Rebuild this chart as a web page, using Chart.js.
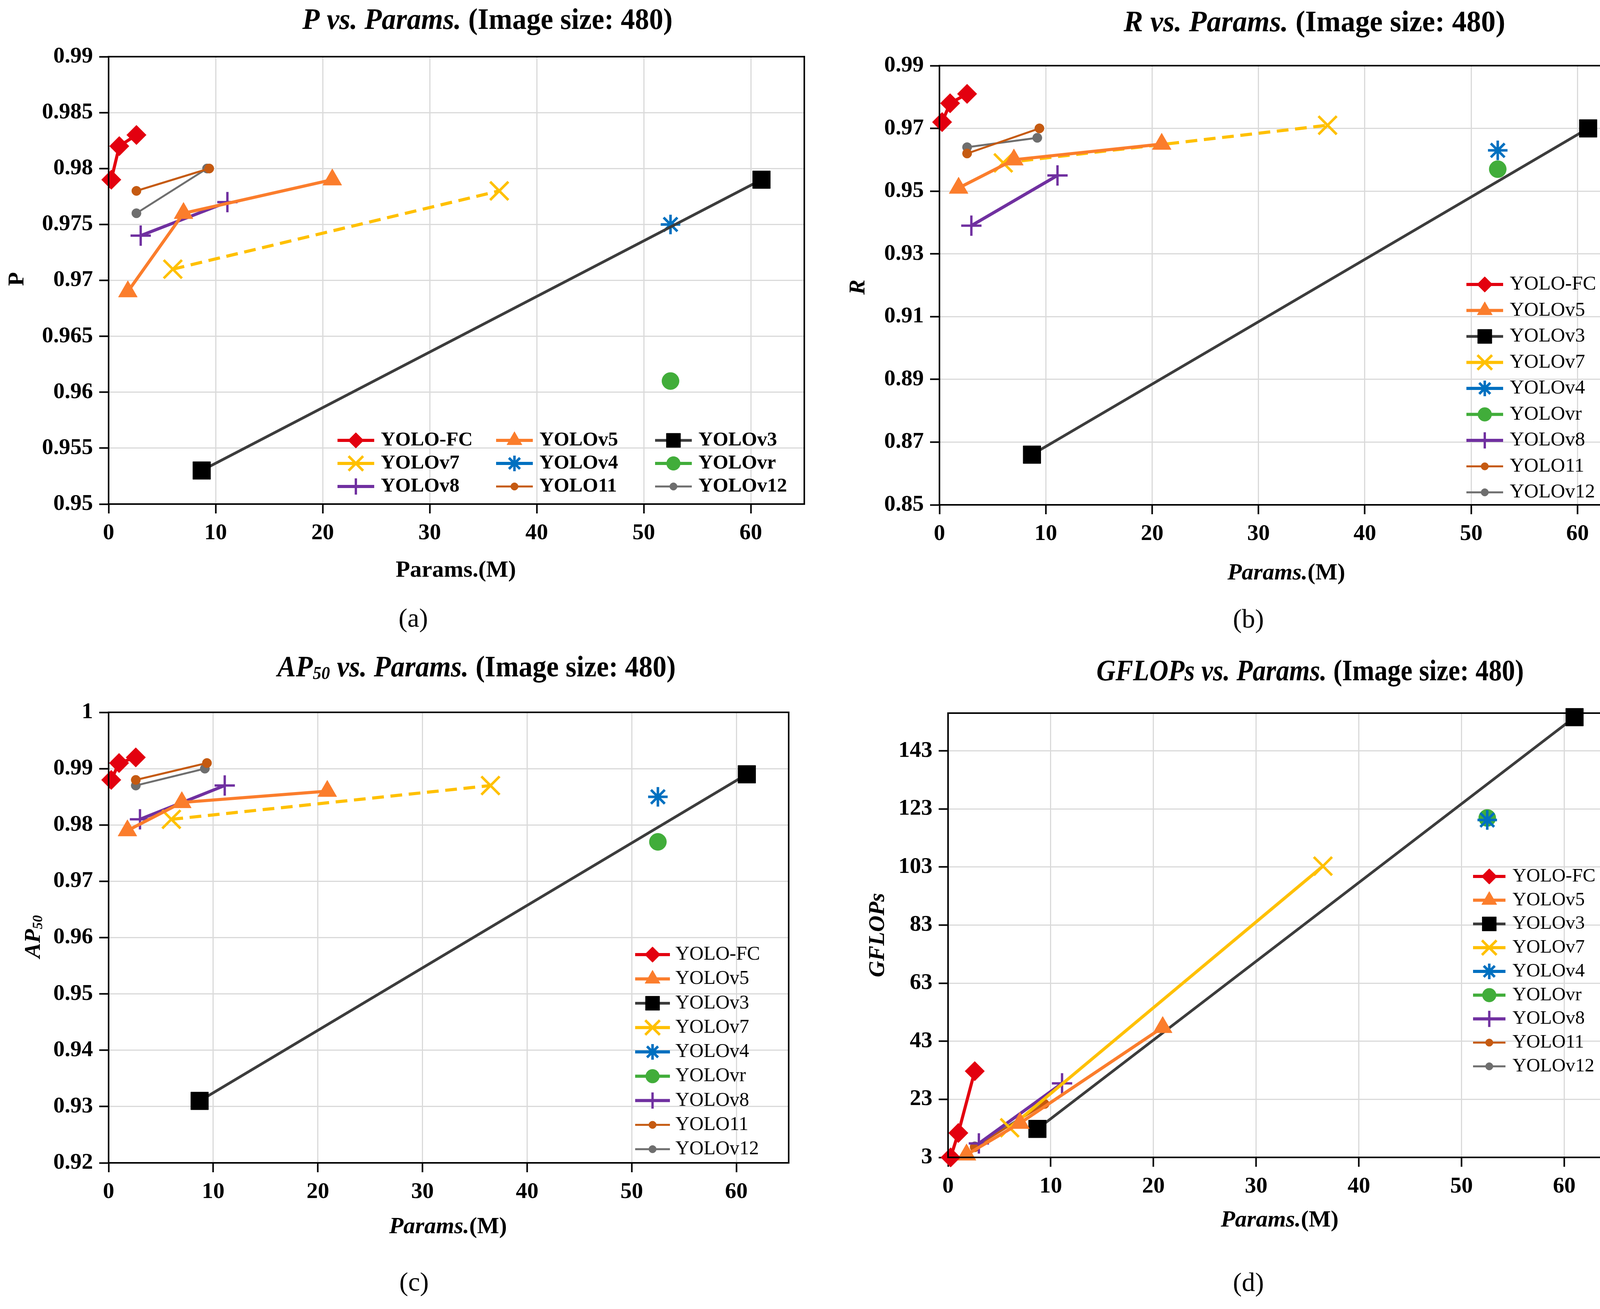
<!DOCTYPE html>
<html>
<head>
<meta charset="utf-8">
<script src="https://cdn.jsdelivr.net/npm/chart.js@4.4.1/dist/chart.umd.min.js"></script>
<style>
html, body { margin: 0; padding: 0; background: #fff; }
#wrap { position: relative; width: 4214px; height: 3350px; }
canvas { position: absolute; width: 2107px; height: 1675px; }
</style>
</head>
<body>
<div id="wrap">
<canvas id="chartP" width="2107" height="1675" style="left:0;top:0"></canvas>
<canvas id="chartR" width="2107" height="1675" style="left:2107px;top:0"></canvas>
<canvas id="chartAP" width="2107" height="1675" style="left:0;top:1675px"></canvas>
<canvas id="chartG" width="2107" height="1675" style="left:2107px;top:1675px"></canvas>
</div>
<script>
// models, in legend order
var models = ['YOLO-FC', 'YOLOv5', 'YOLOv3', 'YOLOv7', 'YOLOv4', 'YOLOvr', 'YOLOv8', 'YOLO11', 'YOLOv12'];

// Params.(M) per model
var paramsFC = [0.25, 1.0, 2.6];
var paramsV5 = [1.8, 7.0, 20.9];
var paramsV3 = [8.7, 61.0];
var paramsV7 = [6.0, 36.5];
var paramsV4 = [52.5];
var paramsVr = [52.5];
var paramsV8 = [3.0, 11.1];
var params11 = [2.6, 9.4];
var params12 = [2.6, 9.2];

// P
var pFC = [0.979, 0.982, 0.983];
var pV5 = [0.969, 0.976, 0.979];
var pV3 = [0.953, 0.979];
var pV7 = [0.971, 0.978];
var pV4 = [0.975];
var pVr = [0.961];
var pV8 = [0.974, 0.977];
var p11 = [0.978, 0.980];
var p12 = [0.976, 0.980];

// R
var rFC = [0.972, 0.978, 0.981];
var rV5 = [0.951, 0.960, 0.965];
var rV3 = [0.866, 0.970];
var rV7 = [0.959, 0.971];
var rV4 = [0.963];
var rVr = [0.957];
var rV8 = [0.939, 0.955];
var r11 = [0.962, 0.970];
var r12 = [0.964, 0.967];

// AP50
var apFC = [0.988, 0.991, 0.992];
var apV5 = [0.979, 0.984, 0.986];
var apV3 = [0.931, 0.989];
var apV7 = [0.981, 0.987];
var apV4 = [0.985];
var apVr = [0.977];
var apV8 = [0.981, 0.987];
var ap11 = [0.988, 0.991];
var ap12 = [0.987, 0.990];

// GFLOPs
var gFC = [3.0, 11.4, 32.7];
var gV5 = [3.9, 14.8, 47.8];
var gV3 = [12.8, 154.6];
var gV7 = [13.2, 103.3];
var gV4 = [119.2];
var gVr = [119.9];
var gV8 = [7.8, 28.5];
var g11 = [6.5, 21.4];
var g12 = [6.8, 21.3];

// tick values
var xTicks = [0, 10, 20, 30, 40, 50, 60];
var pTicks = [0.95, 0.955, 0.96, 0.965, 0.97, 0.975, 0.98, 0.985, 0.99];
var rTicks = [0.85, 0.87, 0.89, 0.91, 0.93, 0.95, 0.97, 0.99];
var apTicks = [0.92, 0.93, 0.94, 0.95, 0.96, 0.97, 0.98, 0.99, 1];
var gTicks = [3, 23, 43, 63, 83, 103, 123, 143];

var params = [paramsFC, paramsV5, paramsV3, paramsV7, paramsV4, paramsVr, paramsV8, params11, params12];

// look of each series (same order as models)
var looks = [
  { line: '#E3000F', fill: '#E3000F', shape: 'rectRot', r: 25, bw: 1, lw: 8 },
  { line: '#FB7D2C', fill: '#FB7D2C', shape: 'triangle', r: 28, bw: 1, lw: 8 },
  { line: '#3C3C3C', fill: '#000000', shape: 'rect', r: 32, bw: 1, lw: 7 },
  { line: '#FFC000', fill: '#FFC000', shape: 'crossRot', r: 33, bw: 6.5, lw: 8 },
  { line: '#0070C0', fill: '#0070C0', shape: 'star', r: 25, bw: 6.5, lw: 8 },
  { line: '#41AD3A', fill: '#41AD3A', shape: 'circle', r: 22, bw: 1, lw: 8 },
  { line: '#7030A0', fill: '#7030A0', shape: 'cross', r: 26, bw: 6, lw: 8 },
  { line: '#C55A11', fill: '#C55A11', shape: 'circle', r: 12, bw: 1, lw: 5 },
  { line: '#6E6E6E', fill: '#6E6E6E', shape: 'circle', r: 12, bw: 1, lw: 5 }
];

var W = 2107, H = 1675;
var SERIF = '"Liberation Serif", "Times New Roman", serif';

function makeSets(values, dashV7) {
  return models.map(function (m, i) {
    var lk = looks[i];
    return {
      label: m,
      data: params[i].map(function (x, j) { return { x: x, y: values[i][j] }; }),
      showLine: true,
      borderColor: lk.line,
      backgroundColor: lk.fill,
      borderWidth: lk.lw,
      borderDash: (m === 'YOLOv7' && dashV7) ? [30, 17] : [],
      pointStyle: lk.shape,
      pointRadius: lk.r,
      pointBackgroundColor: lk.fill,
      pointBorderColor: lk.fill,
      pointBorderWidth: lk.bw,
      tension: 0,
      clip: false
    };
  });
}

function fontOf(seg, size, weight) {
  var s = seg.s ? size * 0.62 : size;
  return (seg.i ? 'italic ' : '') + weight + ' ' + s + 'px ' + SERIF;
}

// mixed italic / upright / subscript text, centred on (cx, cy);
// fitW squeezes it sideways to the width seen in the original
function rich(ctx, segs, cx, cy, size, weight, rot, fitW) {
  ctx.save();
  ctx.translate(cx, cy);
  if (rot) ctx.rotate(rot);
  var w = 0;
  segs.forEach(function (sg) { ctx.font = fontOf(sg, size, weight); w += ctx.measureText(sg.t).width; });
  if (fitW) ctx.scale(fitW / w, 1);
  var x = -w / 2;
  ctx.fillStyle = '#000';
  ctx.textAlign = 'left';
  ctx.textBaseline = 'middle';
  segs.forEach(function (sg) {
    ctx.font = fontOf(sg, size, weight);
    ctx.fillText(sg.t, x, sg.s ? size * 0.2 : 0);
    x += ctx.measureText(sg.t).width;
  });
  ctx.restore();
}

function decor(cfg) {
  return {
    id: 'decor',
    afterDraw: function (chart) {
      var ctx = chart.ctx, a = chart.chartArea;
      ctx.save();
      ctx.strokeStyle = '#000';
      ctx.lineWidth = 4;
      ctx.strokeRect(a.left, a.top, a.right - a.left, a.bottom - a.top);

      rich(ctx, cfg.title, cfg.titleAt[0], cfg.titleAt[1], 76, 'bold', 0, cfg.titleW);
      rich(ctx, cfg.xTitle, cfg.xTitleAt[0], cfg.xTitleAt[1], 60, 'bold', 0);
      rich(ctx, cfg.yTitle, cfg.yTitleAt[0], cfg.yTitleAt[1], 58, 'bold', -Math.PI / 2);
      rich(ctx, [{ t: cfg.tag }], cfg.tagAt[0], cfg.tagAt[1], 68, 'normal', 0);

      // legend inside the plot
      var L = cfg.legend;
      chart.data.datasets.forEach(function (ds, i) {
        var col = i % L.cols, row = Math.floor(i / L.cols);
        var x = L.xs[col], y = L.y0 + row * L.dy;
        ctx.setLineDash([]);
        ctx.strokeStyle = ds.borderColor;
        ctx.lineWidth = ds.borderWidth;
        ctx.beginPath();
        ctx.moveTo(x, y);
        ctx.lineTo(x + L.len, y);
        ctx.stroke();
        ctx.fillStyle = ds.pointBackgroundColor;
        ctx.strokeStyle = ds.pointBorderColor;
        ctx.lineWidth = ds.pointBorderWidth;
        Chart.helpers.drawPoint(ctx, {
          pointStyle: ds.pointStyle, rotation: 0,
          radius: ds.pointRadius * 0.8, borderWidth: ds.pointBorderWidth
        }, x + L.len / 2, y);
        ctx.fillStyle = '#000';
        ctx.font = L.font + ' ' + SERIF;
        ctx.textAlign = 'left';
        ctx.textBaseline = 'middle';
        ctx.fillText(ds.label, x + L.tx, y);
      });
      ctx.restore();
    }
  };
}

function axis(min, max, ticks, fmt, fit) {
  return {
    type: 'linear',
    min: min,
    max: max,
    afterBuildTicks: function (s) { s.ticks = ticks.map(function (v) { return { value: v }; }); },
    afterFit: fit,
    grid: { color: '#DADADA', lineWidth: 3, tickColor: '#000', tickLength: 24, tickWidth: 4 },
    border: { color: '#000', width: 4 },
    ticks: {
      autoSkip: false, maxRotation: 0, color: '#000', padding: 16,
      font: { family: SERIF, size: 58, weight: 'bold' },
      callback: fmt
    }
  };
}

function build(id, cfg) {
  var A = cfg.area;
  new Chart(document.getElementById(id), {
    type: 'scatter',
    data: { datasets: makeSets(cfg.values, cfg.dash) },
    options: {
      responsive: false,
      animation: false,
      devicePixelRatio: 1,
      events: [],
      layout: { padding: { left: 0, top: A.top, right: W - A.right, bottom: 0 } },
      plugins: { legend: { display: false }, tooltip: { enabled: false } },
      scales: {
        x: axis(0, 65, xTicks, function (v) { return String(v); },
          function (s) { s.height = H - A.bottom; }),
        y: axis(cfg.min, cfg.max, cfg.ticks, function (v) { return String(parseFloat(v.toFixed(3))); },
          function (s) { s.width = A.left; })
      }
    },
    plugins: [decor(cfg)]
  });
}

build('chartP', {
  values: [pFC, pV5, pV3, pV7, pV4, pVr, pV8, p11, p12], dash: true,
  min: 0.95, max: 0.99, ticks: pTicks,
  area: { left: 278, right: 2059, top: 145, bottom: 1290 },
  title: [{ t: 'P vs. Params.', i: 1 }, { t: ' (Image size: 480)' }], titleAt: [1248, 54], titleW: 948,
  xTitle: [{ t: 'Params.(M)' }], xTitleAt: [1167, 1460],
  yTitle: [{ t: 'P' }], yTitleAt: [45, 714],
  tag: '(a)', tagAt: [1058, 1586],
  legend: { cols: 3, xs: [864, 1270, 1677], len: 94, tx: 111, y0: 1127, dy: 59, font: 'bold 51px' }
});

build('chartR', {
  values: [rFC, rV5, rV3, rV7, rV4, rVr, rV8, r11, r12], dash: true,
  min: 0.85, max: 0.99, ticks: rTicks,
  area: { left: 298, right: 2079, top: 168, bottom: 1292 },
  title: [{ t: 'R vs. Params.', i: 1 }, { t: ' (Image size: 480)' }], titleAt: [1258, 60], titleW: 977,
  xTitle: [{ t: 'Params.', i: 1 }, { t: '(M)' }], xTitleAt: [1186, 1467],
  yTitle: [{ t: 'R', i: 1 }], yTitleAt: [91, 735],
  tag: '(b)', tagAt: [1089, 1588],
  legend: { cols: 1, xs: [1647], len: 94, tx: 111, y0: 728, dy: 66.5, font: 'normal 51px' }
});

build('chartAP', {
  values: [apFC, apV5, apV3, apV7, apV4, apVr, apV8, ap11, ap12], dash: true,
  min: 0.92, max: 1, ticks: apTicks,
  area: { left: 278, right: 2019, top: 148, bottom: 1301 },
  title: [{ t: 'AP', i: 1 }, { t: '50', i: 1, s: 1 }, { t: ' vs. Params.', i: 1 }, { t: ' (Image size: 480)' }], titleAt: [1220, 36], titleW: 1020,
  xTitle: [{ t: 'Params.', i: 1 }, { t: '(M)' }], xTitleAt: [1147, 1465],
  yTitle: [{ t: 'AP', i: 1 }, { t: '50', i: 1, s: 1 }], yTitleAt: [87, 722],
  tag: '(c)', tagAt: [1060, 1610],
  legend: { cols: 1, xs: [1626], len: 89, tx: 103, y0: 768, dy: 62.25, font: 'normal 50px' }
});

build('chartG', {
  values: [gFC, gV5, gV3, gV7, gV4, gVr, gV8, g11, g12], dash: false,
  min: 3, max: 156, ticks: gTicks,
  area: { left: 320, right: 2029, top: 150, bottom: 1287 },
  title: [{ t: 'GFLOPs vs. Params.', i: 1 }, { t: ' (Image size: 480)' }], titleAt: [1247, 46], titleW: 1094,
  xTitle: [{ t: 'Params.', i: 1 }, { t: '(M)' }], xTitleAt: [1169, 1448],
  yTitle: [{ t: 'GFLOPs', i: 1 }], yTitleAt: [141, 718],
  tag: '(d)', tagAt: [1089, 1611],
  legend: { cols: 1, xs: [1664], len: 83, tx: 101, y0: 568, dy: 60.75, font: 'normal 49px' }
});
</script>
</body>
</html>
